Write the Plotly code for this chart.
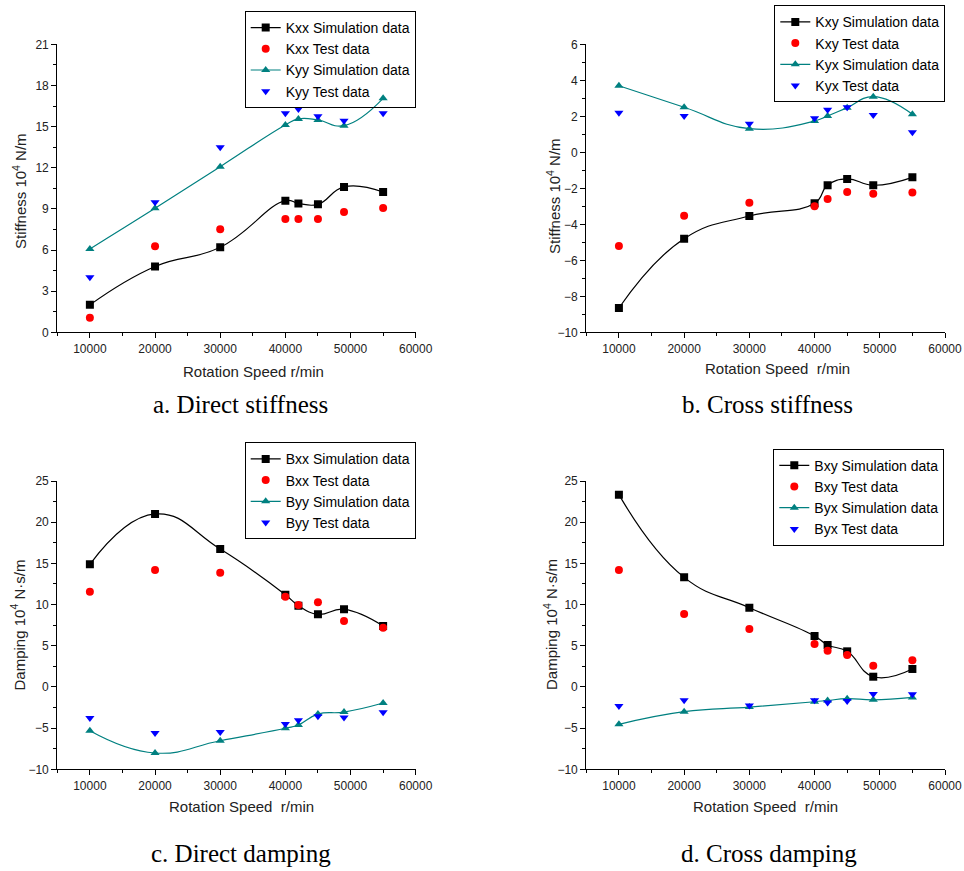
import plotly.graph_objects as go

# ---------------- data ----------------
speed = [10000, 20000, 30000, 40000, 42000, 45000, 49000, 55000]

kxx_sim = [2.0, 4.8, 6.2, 9.6, 9.4, 9.33, 10.6, 10.23]
kxx_test = [1.07, 6.27, 7.51, 8.26, 8.26, 8.26, 8.77, 9.07]
kyy_sim = [6.08, 9.04, 12.08, 15.12, 15.56, 15.48, 15.07, 17.06]
kyy_test = [4.01, 9.48, 13.49, 15.97, 16.29, 15.75, 15.43, 15.97]

kxy_sim = [-8.65, -4.8, -3.54, -2.83, -1.83, -1.48, -1.83, -1.39]
kxy_test = [-5.2, -3.52, -2.8, -3.0, -2.59, -2.2, -2.3, -2.24]
kyx_sim = [3.70, 2.5, 1.31, 1.74, 2.02, 2.48, 3.09, 2.11]
kyx_test = [2.2, 2.02, 1.59, 1.89, 2.37, 2.5, 2.07, 1.11]

bxx_sim = [14.88, 21.0, 16.74, 11.2, 9.87, 8.81, 9.42, 7.4]
bxx_test = [11.56, 14.2, 13.87, 10.95, 9.95, 10.27, 8.0, 7.19]
byy_sim = [-5.31, -8.02, -6.53, -5.02, -4.62, -3.3, -3.05, -1.95]
byy_test = [-3.77, -5.6, -5.47, -4.5, -4.05, -3.55, -3.7, -3.06]

bxy_sim = [23.34, 13.3, 9.62, 6.18, 5.09, 4.32, 1.24, 2.18]
bxy_test = [14.2, 8.85, 7.03, 5.21, 4.4, 3.88, 2.58, 3.23]
byx_sim = [-4.54, -3.0, -2.45, -1.8, -1.64, -1.43, -1.56, -1.27]
byx_test = [-2.32, -1.63, -2.24, -1.63, -1.9, -1.7, -0.86, -0.9]

NB = "\u00a0"
panels = [
    dict(names=["Kxx", "Kyy"], data=[kxx_sim, kxx_test, kyy_sim, kyy_test],
         yr=[0, 21], dt=3, ytitle="Stiffness 10<sup>4</sup> N/m",
         xtitle="Rotation Speed r/min", caption="a. Direct stiffness"),
    dict(names=["Kxy", "Kyx"], data=[kxy_sim, kxy_test, kyx_sim, kyx_test],
         yr=[-10, 6], dt=2, ytitle="Stiffness 10<sup>4</sup> N/m",
         xtitle="Rotation Speed" + NB + " r/min", caption="b. Cross stiffness"),
    dict(names=["Bxx", "Byy"], data=[bxx_sim, bxx_test, byy_sim, byy_test],
         yr=[-10, 25], dt=5, ytitle="Damping 10<sup>4</sup> N·s/m",
         xtitle="Rotation Speed" + NB + " r/min", caption="c. Direct damping"),
    dict(names=["Bxy", "Byx"], data=[bxy_sim, bxy_test, byx_sim, byx_test],
         yr=[-10, 25], dt=5, ytitle="Damping 10<sup>4</sup> N·s/m",
         xtitle="Rotation Speed" + NB + " r/min", caption="d. Cross damping"),
]

# ---------------- layout geometry (pixels) ----------------
W, H = 964, 871
px_x = [(57.3, 415.7), (586.3, 945.0), (57.3, 415.7), (586.3, 945.0)]
px_y = [(44.3, 332.3), (44.3, 332.3), (481.0, 769.3), (481.0, 769.3)]
legend_pos = [(415.7, 11.0), (945.3, 5.3), (415.7, 442.3), (944.3, 448.7)]
xtitle_pos = [(253, 372), (777, 368), (241, 806), (765, 806)]
ytitle_pos = [(19, 191), (553, 196), (17.5, 625), (550, 625)]
caption_pos = [(240, 405), (767, 405), (241, 853), (769, 853)]

SANS = "Liberation Sans, Arial, sans-serif"
SERIF = "Liberation Serif, Times New Roman, serif"

fig = go.Figure()
annotations = []
layout = dict(autosize=True, margin=dict(l=0, r=0, t=0, b=0, pad=0),
              paper_bgcolor="white", plot_bgcolor="white", showlegend=True)

for i, p in enumerate(panels):
    n = i + 1
    xa = "x" if n == 1 else f"x{n}"
    ya = "y" if n == 1 else f"y{n}"
    lg = "legend" if n == 1 else f"legend{n}"
    s1, t1, s2, t2 = p["data"]
    a, b = p["names"]
    traces = [
        (f"{a} Simulation data", s1, "lines+markers", "square", "#000000"),
        (f"{a} Test data", t1, "markers", "circle", "#ff0000"),
        (f"{b} Simulation data", s2, "lines+markers", "triangle-up", "#008080"),
        (f"{b} Test data", t2, "markers", "triangle-down", "#0000ff"),
    ]
    for name, vals, mode, sym, col in traces:
        fig.add_trace(go.Scatter(
            x=speed, y=vals, name=name, mode=mode, xaxis=xa, yaxis=ya,
            legend=lg,
            line=dict(color=col, width=1.2, shape="spline", smoothing=1.3),
            marker=dict(symbol=sym, color=col, size=8, line=dict(width=0)),
        ))

    x0, x1 = px_x[i]
    y0, y1 = px_y[i]
    axcommon = dict(showline=True, linecolor="#000000", linewidth=1.3,
                    ticks="outside", ticklen=5, tickwidth=1.2, tickcolor="#000000",
                    showgrid=False, zeroline=False, tickformat="d",
                    automargin=False,
                    tickfont=dict(family=SANS, size=12, color="#222222"))
    layout["xaxis" if n == 1 else f"xaxis{n}"] = dict(
        domain=[x0 / W, x1 / W], range=[5000, 60000], tick0=10000, dtick=10000,
        anchor=ya, minor=dict(ticks="outside", ticklen=3, tickwidth=1,
                              tickcolor="#000000", dtick=5000, tick0=5000),
        **axcommon)
    layout["yaxis" if n == 1 else f"yaxis{n}"] = dict(
        domain=[1 - y1 / H, 1 - y0 / H], range=p["yr"], tick0=p["yr"][0],
        dtick=p["dt"], anchor=xa,
        minor=dict(ticks="outside", ticklen=3, tickwidth=1, tickcolor="#000000",
                   dtick=p["dt"] / 2, tick0=p["yr"][0]),
        **axcommon)

    lx, ly = legend_pos[i]
    layout[lg] = dict(x=lx / W, y=1 - ly / H, xanchor="right", yanchor="top",
                      xref="paper", yref="paper",
                      bordercolor="#000000", borderwidth=1,
                      bgcolor="rgba(255,255,255,0)",
                      font=dict(family=SANS, size=14, color="#000000"),
                      tracegroupgap=0, itemwidth=30)

    tx, ty = xtitle_pos[i]
    annotations.append(dict(text=p["xtitle"], x=tx / W, y=1 - ty / H,
                            xref="paper", yref="paper", showarrow=False,
                            xanchor="center", yanchor="middle",
                            font=dict(family=SANS, size=15, color="#222222")))
    yx, yy = ytitle_pos[i]
    annotations.append(dict(text=p["ytitle"], x=yx / W, y=1 - yy / H,
                            xref="paper", yref="paper", showarrow=False,
                            xanchor="center", yanchor="middle",
                            textangle=-90,
                            font=dict(family=SANS, size=15, color="#222222")))
    cx, cy = caption_pos[i]
    annotations.append(dict(text=p["caption"], x=cx / W, y=1 - cy / H,
                            xref="paper", yref="paper", showarrow=False,
                            xanchor="center", yanchor="middle",
                            font=dict(family=SERIF, size=25, color="#000000")))

layout["annotations"] = annotations
fig.update_layout(**layout)
# The plot div is pinned to the window's top-left corner so the page's
# default body margin neither shifts it nor creates scrollbars.
fig.write_html(
    "out.html",
    default_width=f"{W}px;position:fixed;left:0;top:0",
    default_height=f"{H}px",
    config={"displayModeBar": False},
)
